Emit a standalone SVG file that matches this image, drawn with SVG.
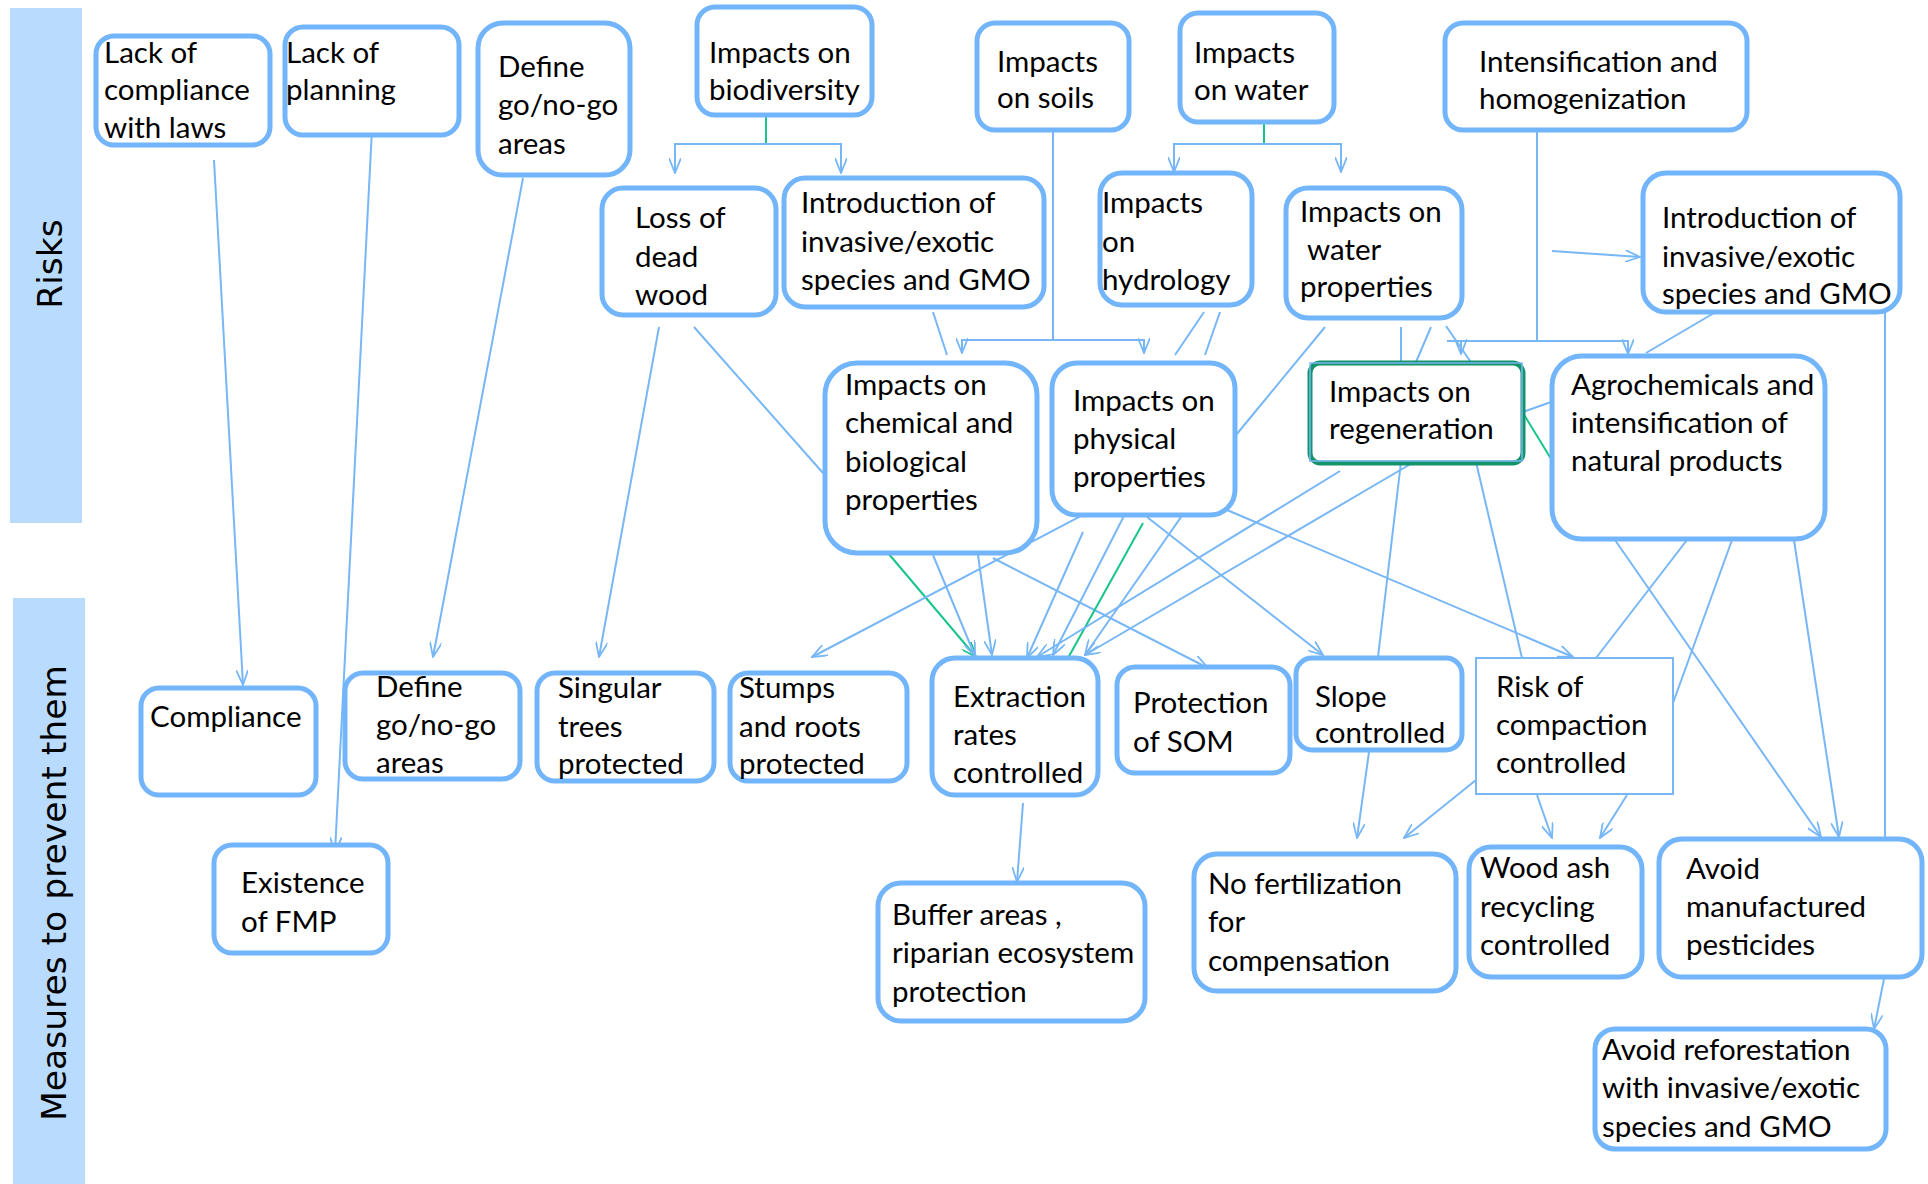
<svg xmlns="http://www.w3.org/2000/svg" width="1928" height="1184" viewBox="0 0 1928 1184">
<style>
.band{fill:#b9dbfd}
.bl{font-family:"DejaVu Sans",Verdana,sans-serif;font-size:34.5px;fill:#000}
.box{fill:#fff;stroke:#73b5fa;stroke-width:5}
.t{font-family:Lato,"Liberation Sans",sans-serif;font-size:29.5px;fill:#000}
.c{fill:none;stroke:#78b7f6;stroke-width:2}
.a{marker-end:url(#ar)}
.g{fill:none;stroke:#17c48b;stroke-width:2}
.ga{marker-end:url(#arg)}
</style>
<defs>
<marker id="ar" viewBox="0 0 16 12" refX="15" refY="6" markerWidth="16" markerHeight="12" markerUnits="userSpaceOnUse" orient="auto"><path d="M0,0 L15,6 L0,12" fill="none" stroke="#78b7f6" stroke-width="1.8"/></marker>
<marker id="arg" viewBox="0 0 16 12" refX="15" refY="6" markerWidth="16" markerHeight="12" markerUnits="userSpaceOnUse" orient="auto"><path d="M0,0 L15,6 L0,12" fill="none" stroke="#17c48b" stroke-width="1.8"/></marker>
</defs>
<rect width="1928" height="1184" fill="#fff"/>
<g id="band-risks"><rect class="band" x="10" y="8" width="72" height="515"/><text class="bl" transform="translate(62,264) rotate(-90)" text-anchor="middle">Risks</text></g>
<g id="band-measures"><rect class="band" x="13" y="598" width="72" height="586"/><text class="bl" transform="translate(66,893) rotate(-90)" text-anchor="middle">Measures to prevent them</text></g>

<g id="connectors">
<path class="g" d="M766,115 V144"/>
<path class="c a" d="M766,144 H675 V173"/>
<path class="c a" d="M766,144 H841 V173"/>
<path class="c a" d="M1053,130 V340 H962 V353"/>
<path class="c a" d="M1053,340 H1144 V353"/>
<path class="g" d="M1264,122 V144"/>
<path class="c a" d="M1264,144 H1174 V172"/>
<path class="c a" d="M1264,144 H1341 V172"/>
<path class="c a" d="M1537,130 V341 H1628 V354"/>
<path class="c" d="M1537,341 H1447"/>
<path class="c a" d="M1461,341 V354"/>
<path class="c" d="M1325,327 L1236,435"/>
<path class="c" d="M1401,327 L1401,370"/>
<path class="c" d="M1431,327 L1416,362"/>
<path class="c" d="M1446,326 L1477,371"/>
<path class="c" d="M933,312 L947,355"/>
<path class="c" d="M1204,312 L1175,355"/>
<path class="c" d="M1220,312 L1205,355"/>
<path class="c a" d="M1552,251 L1640,257"/>
<path class="c" d="M1714,313 L1646,353"/>
<path class="c" d="M1885,312 V837"/>
<path class="c" d="M1523,412 L1551,402"/>
<path class="g" d="M1523,413 L1553,462"/>
<path class="c a" d="M214,160 L243,685"/>
<path class="c a" d="M372,129 L335,852"/>
<path class="c a" d="M523,178 L433,657"/>
<path class="c a" d="M659,327 L599,657"/>
<path class="c" d="M694,327 L823,473"/>
<path class="g ga" d="M888,553 L976,657"/>
<path class="c a" d="M933,555 L975,656"/>
<path class="c a" d="M978,555 L992,655"/>
<path class="c a" d="M993,558 L1208,668"/>
<path class="c a" d="M1098,507 L812,657"/>
<path class="c a" d="M1083,532 L1027,658"/>
<path class="c a" d="M1128,508 L1053,655"/>
<path class="g" d="M1143,523 L1068,658"/>
<path class="c a" d="M1188,507 L1085,655"/>
<path class="c a" d="M1147,517 L1323,655"/>
<path class="c a" d="M1227,510 L1573,657"/>
<path class="c a" d="M1340,471 L1037,657"/>
<path class="c a" d="M1414,462 L1085,655"/>
<path class="c" d="M1401,462 L1378,657"/>
<path class="c" d="M1476,462 L1522,658"/>
<path class="c a" d="M1615,540 L1821,837"/>
<path class="c" d="M1687,540 L1596,658"/>
<path class="c" d="M1732,540 L1673,703"/>
<path class="c a" d="M1794,540 L1839,837"/>
<path class="c a" d="M1369,752 L1357,838"/>
<path class="c a" d="M1476,780 L1404,838"/>
<path class="c a" d="M1537,795 L1552,838"/>
<path class="c a" d="M1627,795 L1600,838"/>
<path class="c a" d="M1023,803 L1017,882"/>
<path class="c a" d="M1884,979 L1874,1029"/>
</g>

<g id="n-lack-compliance"><rect class="box" x="96" y="36" width="174" height="109" rx="18"/><text class="t"><tspan x="104" y="63">Lack of</tspan><tspan x="104" y="100">compliance</tspan><tspan x="104" y="138">with laws</tspan></text></g>
<g id="n-lack-planning"><rect class="box" x="285" y="27" width="174" height="108" rx="18"/><text class="t"><tspan x="286" y="63">Lack of</tspan><tspan x="286" y="100">planning</tspan></text></g>
<g id="n-define-top"><rect class="box" x="478" y="23" width="152" height="152" rx="25"/><text class="t"><tspan x="498" y="77">Define</tspan><tspan x="498" y="115">go/no-go</tspan><tspan x="498" y="154">areas</tspan></text></g>
<g id="n-biodiversity"><rect class="box" x="697" y="7" width="175" height="108" rx="18"/><text class="t"><tspan x="709" y="63">Impacts on</tspan><tspan x="709" y="100">biodiversity</tspan></text></g>
<g id="n-soils"><rect class="box" x="977" y="23" width="152" height="107" rx="18"/><text class="t"><tspan x="997" y="72">Impacts</tspan><tspan x="997" y="108">on soils</tspan></text></g>
<g id="n-water"><rect class="box" x="1180" y="13" width="154" height="109" rx="18"/><text class="t"><tspan x="1194" y="63">Impacts</tspan><tspan x="1194" y="100">on water</tspan></text></g>
<g id="n-intensification"><rect class="box" x="1445" y="23" width="302" height="107" rx="18"/><text class="t"><tspan x="1479" y="72">Intensification and</tspan><tspan x="1479" y="109">homogenization</tspan></text></g>
<g id="n-deadwood"><rect class="box" x="602" y="188" width="174" height="127" rx="21"/><text class="t"><tspan x="635" y="228">Loss of</tspan><tspan x="635" y="267">dead</tspan><tspan x="635" y="305">wood</tspan></text></g>
<g id="n-intro1"><rect class="box" x="784" y="178" width="260" height="129" rx="21"/><text class="t"><tspan x="801" y="213">Introduction of</tspan><tspan x="801" y="252">invasive/exotic</tspan><tspan x="801" y="290">species and GMO</tspan></text></g>
<g id="n-hydrology"><rect class="box" x="1100" y="173" width="152" height="132" rx="22"/><text class="t"><tspan x="1102" y="213">Impacts</tspan><tspan x="1102" y="252">on</tspan><tspan x="1102" y="290">hydrology</tspan></text></g>
<g id="n-waterprop"><rect class="box" x="1286" y="188" width="176" height="130" rx="22"/><text class="t" xml:space="preserve"><tspan x="1300" y="222">Impacts on</tspan><tspan x="1300" y="260"> water</tspan><tspan x="1300" y="297">properties</tspan></text></g>
<g id="n-intro2"><rect class="box" x="1643" y="173" width="257" height="139" rx="23"/><text class="t"><tspan x="1662" y="228">Introduction of</tspan><tspan x="1662" y="267">invasive/exotic</tspan><tspan x="1662" y="304">species and GMO</tspan></text></g>
<g id="n-chemical"><rect class="box" x="825" y="363" width="212" height="190" rx="32"/><text class="t"><tspan x="845" y="395">Impacts on</tspan><tspan x="845" y="433">chemical and</tspan><tspan x="845" y="472">biological</tspan><tspan x="845" y="510">properties</tspan></text></g>
<g id="n-physical"><rect class="box" x="1052" y="363" width="183" height="152" rx="25"/><text class="t"><tspan x="1073" y="411">Impacts on</tspan><tspan x="1073" y="449">physical</tspan><tspan x="1073" y="487">properties</tspan></text></g>
<g id="n-regeneration"><rect x="1310" y="363" width="213" height="100" rx="10" fill="#fff" stroke="#15936b" stroke-width="5"/><rect x="1310" y="363" width="212" height="98" fill="none" stroke="#78b7f6" stroke-width="1.5"/><text class="t"><tspan x="1329" y="402">Impacts on</tspan><tspan x="1329" y="439">regeneration</tspan></text></g>
<g id="n-agro"><rect class="box" x="1552" y="356" width="273" height="183" rx="30"/><text class="t"><tspan x="1571" y="395">Agrochemicals and</tspan><tspan x="1571" y="433">intensification of</tspan><tspan x="1571" y="471">natural products</tspan></text></g>

<g id="n-compliance"><rect class="box" x="141" y="688" width="175" height="107" rx="18"/><text class="t"><tspan x="150" y="727">Compliance</tspan></text></g>
<g id="n-fmp"><rect class="box" x="214" y="845" width="174" height="108" rx="18"/><text class="t"><tspan x="241" y="893">Existence</tspan><tspan x="241" y="932">of FMP</tspan></text></g>
<g id="n-define-bottom"><rect class="box" x="345" y="673" width="175" height="106" rx="18"/><text class="t"><tspan x="376" y="697">Define</tspan><tspan x="376" y="735">go/no-go</tspan><tspan x="376" y="773">areas</tspan></text></g>
<g id="n-singular"><rect class="box" x="537" y="673" width="177" height="108" rx="18"/><text class="t"><tspan x="558" y="698">Singular</tspan><tspan x="558" y="737">trees</tspan><tspan x="558" y="774">protected</tspan></text></g>
<g id="n-stumps"><rect class="box" x="730" y="673" width="177" height="108" rx="18"/><text class="t"><tspan x="739" y="698">Stumps</tspan><tspan x="739" y="737">and roots</tspan><tspan x="739" y="774">protected</tspan></text></g>
<g id="n-extraction"><rect class="box" x="932" y="658" width="166" height="137" rx="23"/><text class="t"><tspan x="953" y="707">Extraction</tspan><tspan x="953" y="745">rates</tspan><tspan x="953" y="783">controlled</tspan></text></g>
<g id="n-som"><rect class="box" x="1117" y="667" width="173" height="106" rx="18"/><text class="t"><tspan x="1133" y="713">Protection</tspan><tspan x="1133" y="752">of SOM</tspan></text></g>
<g id="n-slope"><rect class="box" x="1296" y="658" width="166" height="92" rx="16"/><text class="t"><tspan x="1315" y="707">Slope</tspan><tspan x="1315" y="743">controlled</tspan></text></g>
<g id="n-compaction"><rect x="1476" y="658" width="197" height="136" fill="#fff" stroke="#78b7f6" stroke-width="2"/><text class="t"><tspan x="1496" y="697">Risk of</tspan><tspan x="1496" y="735">compaction</tspan><tspan x="1496" y="773">controlled</tspan></text></g>
<g id="n-buffer"><rect class="box" x="878" y="883" width="267" height="138" rx="23"/><text class="t"><tspan x="892" y="925">Buffer areas ,</tspan><tspan x="892" y="963">riparian ecosystem</tspan><tspan x="892" y="1002">protection</tspan></text></g>
<g id="n-nofert"><rect class="box" x="1194" y="854" width="262" height="137" rx="23"/><text class="t"><tspan x="1208" y="894">No fertilization</tspan><tspan x="1208" y="932">for</tspan><tspan x="1208" y="971">compensation</tspan></text></g>
<g id="n-woodash"><rect class="box" x="1469" y="847" width="173" height="130" rx="22"/><text class="t"><tspan x="1480" y="878">Wood ash</tspan><tspan x="1480" y="917">recycling</tspan><tspan x="1480" y="955">controlled</tspan></text></g>
<g id="n-pesticides"><rect class="box" x="1659" y="839" width="263" height="138" rx="23"/><text class="t"><tspan x="1686" y="879">Avoid</tspan><tspan x="1686" y="917">manufactured</tspan><tspan x="1686" y="955">pesticides</tspan></text></g>
<g id="n-reforest"><rect class="box" x="1595" y="1029" width="291" height="120" rx="20"/><text class="t"><tspan x="1602" y="1060">Avoid reforestation</tspan><tspan x="1602" y="1098">with invasive/exotic</tspan><tspan x="1602" y="1137">species and GMO</tspan></text></g>
</svg>
